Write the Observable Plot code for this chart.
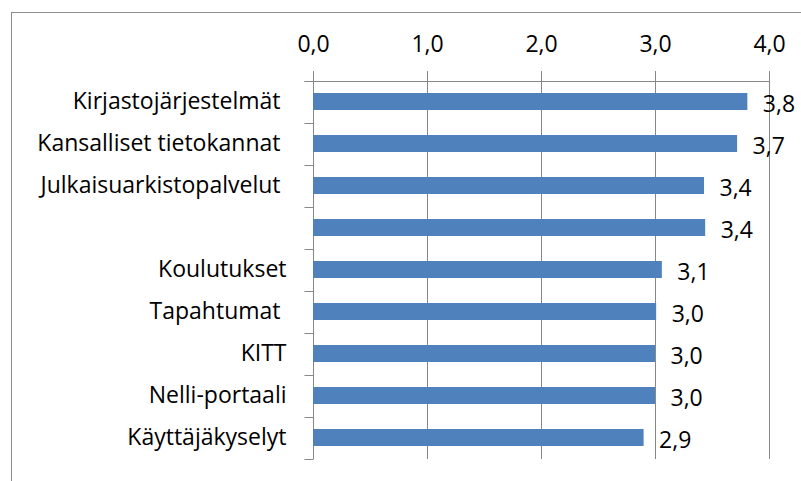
<!DOCTYPE html>
<html><head><meta charset="utf-8">
<script src="https://cdn.jsdelivr.net/npm/d3@7"></script>
<script src="https://cdn.jsdelivr.net/npm/@observablehq/plot@0.6"></script>
<style>
html,body{margin:0;padding:0;background:#fff;overflow:hidden}
#wrap{position:relative;width:801px;height:481px;overflow:hidden;background:#fff}
#frame{position:absolute;left:11px;top:12px;width:2000px;height:2000px;border:1px solid #8c8c8c;}
#chart{position:absolute;left:0;top:0}
svg text{white-space:pre}
</style></head><body>
<div id="wrap"><div id="frame"></div><div id="chart"></div></div>
<script>
const categories = ["Kirjastojärjestelmät ", "Kansalliset tietokannat ", "Julkaisuarkistopalvelut ", "", "Koulutukset", "Tapahtumat ", "KITT", "Nelli-portaali", "Käyttäjäkyselyt"];
const values = [3.81, 3.72, 3.43, 3.44, 3.06, 3.01, 3.00, 3.00, 2.90];
const xTicks = [0, 1, 2, 3, 4];

const data = categories.map((c, i) => ({category: c, value: values[i]}));
const fmt = v => v.toFixed(1).replace(".", ",");
const gray = "#878787";

function boundaryTicks(index, scales, vals, dims) {
  const y = scales.y, x = scales.x;
  const bw = typeof y.bandwidth === "function" ? y.bandwidth() : (y.bandwidth || 0);
  const centers = categories.map(c => y(c) + bw / 2);
  const step = centers[1] - centers[0];
  const bounds = [centers[0] - step / 2, ...centers.map(c => c + step / 2)];
  const x0 = Math.round(x(xTicks[0])) + 0.5;
  const g = d3.create("svg:g").attr("stroke", gray).attr("fill", "none");
  g.selectAll("line.b").data(bounds).join("line").attr("class", "b")
    .attr("x1", x0 - 9).attr("x2", x0)
    .attr("y1", d => Math.round(d) + 0.5).attr("y2", d => Math.round(d) + 0.5);
  g.append("line")
    .attr("x1", x0 - 9).attr("x2", Math.round(x(xTicks[xTicks.length - 1])) + 0.5)
    .attr("y1", Math.round(bounds[0]) + 0.5).attr("y2", Math.round(bounds[0]) + 0.5);
  return g.node();
}

const chart = Plot.plot({
  width: 801, height: 481,
  marginLeft: 313, marginRight: 32, marginTop: 80, marginBottom: 22,
  style: {fontFamily: "'Open Sans', sans-serif", fontSize: "23px", color: "#000", background: "transparent"},
  x: {domain: [0, 4], axis: null, label: null},
  y: {domain: categories, paddingInner: 0.6, paddingOuter: 0.3, axis: null, label: null},
  marks: [
    Plot.gridX(xTicks, {stroke: gray, strokeOpacity: 1}),
    Plot.axisX(xTicks, {anchor: "top", label: null, tickSize: 10, tickPadding: 19, tickFormat: fmt, stroke: gray, strokeOpacity: 1, fill: "#000"}),
    Plot.axisY({anchor: "left", label: null, tickSize: 0, tickPadding: 27, fill: "#000"}),
    boundaryTicks,
    Plot.barX(data, {x: "value", y: "category", fill: "#4F81BD"}),
    Plot.text(data, {x: "value", y: "category", text: d => fmt(d.value), textAnchor: "start", dx: 15, dy: 3, fill: "#000"})
  ]
});
document.getElementById("chart").appendChild(chart);
</script>
</body></html>
